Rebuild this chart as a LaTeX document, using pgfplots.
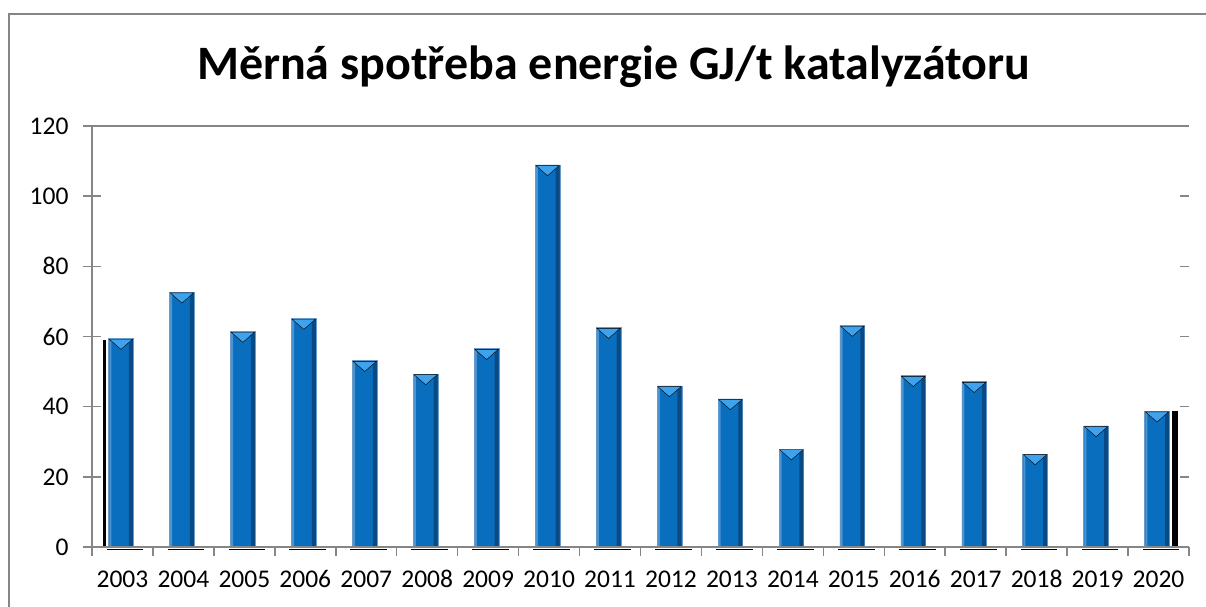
\documentclass[border=0pt]{standalone}
\usepackage{fontspec}
\setmainfont{Carlito}
\usepackage{pgfplots}
\pgfplotsset{compat=1.18}
\definecolor{axisgray}{HTML}{868686}
\definecolor{barmid}{HTML}{0A6EBE}
\definecolor{barleft}{HTML}{4A94D2}
\definecolor{barright}{HTML}{0A4A84}
\definecolor{bevel}{HTML}{3FA2EC}
\definecolor{barline}{HTML}{6A9CCB}

\begin{document}
\begin{tikzpicture}[x=1pt,y=1pt]
\useasboundingbox (0,0) rectangle (1206,606);
\fill[white] (0,0) rectangle (1206,606);
\draw[axisgray, line width=2pt] (9,-5) -- (9,592) -- (1215,592);
\node[font=\fontsize{48}{56}\selectfont\bfseries, anchor=base, inner sep=0pt] at (613.5,526) {Měrná spotřeba energie GJ/t katalyzátoru};
\begin{axis}[
  at={(92pt,59pt)}, anchor=south west,
  width=1097pt, height=421pt, scale only axis,
  xmin=-0.5, xmax=17.5, ymin=0, ymax=120, clip=false,
  axis line style={draw=none},
  xtick={-0.5,0.5,1.5,2.5,3.5,4.5,5.5,6.5,7.5,8.5,9.5,10.5,11.5,12.5,13.5,14.5,15.5,16.5,17.5},
  x tick label as interval,
  xticklabels={2003,2004,2005,2006,2007,2008,2009,2010,2011,2012,2013,2014,2015,2016,2017,2018,2019,2020},
  ytick={0,20,40,60,80,100,120},
  tickpos=left, tick align=outside, major tick length=9pt,
  tick style={axisgray, line width=1.5pt},
  ticklabel style={font=\fontsize{25.5}{30}\selectfont, text=black},
  xticklabel style={anchor=center, text height=16pt, text depth=0pt, yshift=-23pt},
  yticklabel style={xshift=-11pt},
  /pgf/number format/assume math mode=true,
]
% 3D shadow artefacts
\addplot[only marks, mark=-, mark size=18.35pt, mark options={black, line width=1.2pt, xshift=2.5pt}]
  coordinates {(0,-0.75) (1,-0.75) (2,-0.75) (3,-0.75) (4,-0.75) (5,-0.75) (6,-0.75) (7,-0.75) (8,-0.75)
               (9,-0.75) (10,-0.75) (11,-0.75) (12,-0.75) (13,-0.75) (14,-0.75) (15,-0.75) (16,-0.75) (17,-0.75)};
\addplot[ybar, bar width=2.7pt, bar shift=-17.8pt, fill=black, draw=none] coordinates {(0,59.0)};
\addplot[ybar, bar width=6pt, bar shift=16.3pt, fill=black, draw=none] coordinates {(17,38.7)};
% bars
\addplot[ybar, bar width=24.7pt, bar shift=-1.5pt, draw=barline, line width=0.6pt, fill=barmid]
  coordinates {(0,59.4) (1,72.6) (2,61.4) (3,65.1) (4,53.1) (5,49.3) (6,56.5) (7,108.9) (8,62.5)
               (9,45.9) (10,42.2) (11,27.9) (12,63.1) (13,48.8) (14,47.1) (15,26.5) (16,34.5) (17,38.7)};
% darker right edge of bars
\addplot[ybar, bar width=4pt, bar shift=8.5pt, draw=none, fill=barright]
  coordinates {(0,59.2) (1,72.4) (2,61.2) (3,64.9) (4,52.9) (5,49.1) (6,56.3) (7,108.7) (8,62.3)
               (9,45.7) (10,42.0) (11,27.7) (12,62.9) (13,48.6) (14,46.9) (15,26.3) (16,34.3) (17,38.5)};
% lighter left edge of bars
\addplot[ybar, bar width=2pt, bar shift=-12.2pt, draw=none, fill=barleft]
  coordinates {(0,59.2) (1,72.4) (2,61.2) (3,64.9) (4,52.9) (5,49.1) (6,56.3) (7,108.7) (8,62.3)
               (9,45.7) (10,42.0) (11,27.7) (12,62.9) (13,48.6) (14,46.9) (15,26.3) (16,34.3) (17,38.5)};
% bevel at bar tops
\addplot[only marks, mark=triangle*, mark size=13.5pt,
  mark options={fill=bevel, draw=none, xshift=-1.5pt, yshift=-4pt, yscale=0.5, rotate=180}]
  coordinates {(0,59.4) (1,72.6) (2,61.4) (3,65.1) (4,53.1) (5,49.3) (6,56.5) (7,108.9) (8,62.5)
               (9,45.9) (10,42.2) (11,27.9) (12,63.1) (13,48.8) (14,47.1) (15,26.5) (16,34.5) (17,38.7)};
% axis lines and inner tick parts
\draw[axisgray, line width=1.8pt] (rel axis cs:0,0) -- (rel axis cs:0,1) -- (rel axis cs:1,1);
\draw[axisgray, line width=1.8pt] (rel axis cs:0,0) -- (rel axis cs:1,0);
\pgfplotsinvokeforeach{20,40,60,80,100}{
  \draw[axisgray, line width=1.5pt] (axis cs:-0.5,#1) -- ([xshift=9pt]axis cs:-0.5,#1);
  \draw[axisgray, line width=1.5pt] (axis cs:17.5,#1) -- ([xshift=-9pt]axis cs:17.5,#1);
}
\end{axis}
\end{tikzpicture}
\end{document}
